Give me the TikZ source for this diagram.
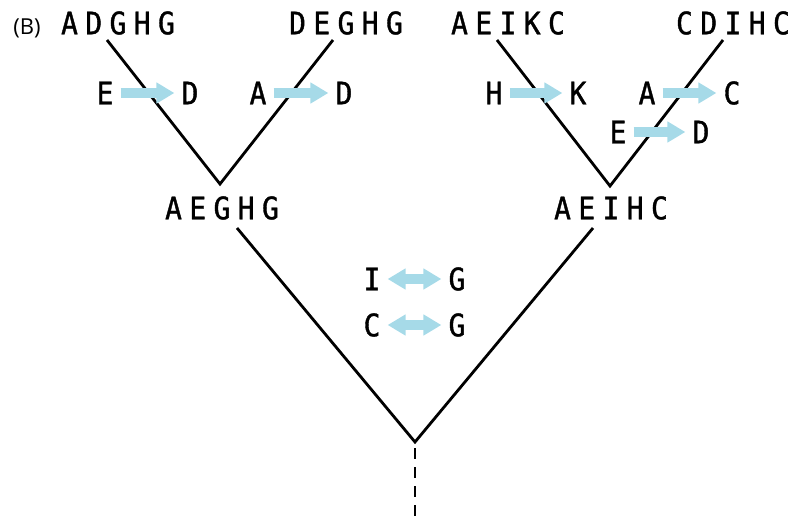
\documentclass[tikz,border=0pt]{standalone}
\usepackage{fontspec}
\usetikzlibrary{arrows.meta}
\newfontfamily\seqfont[LetterSpace=24,FakeStretch=0.9,FakeBold=1.2]{DejaVu Sans Mono}
\newfontfamily\letfont[FakeStretch=0.9,FakeBold=1.2]{DejaVu Sans Mono}
\newfontfamily\labfont{Open Sans}
\definecolor{arrowc}{RGB}{166,218,232}
\begin{document}
\begin{tikzpicture}[x=1pt,y=-1pt,
  seq/.style={inner sep=0pt, font=\seqfont\fontsize{31}{36}\selectfont},
  ltr/.style={inner sep=0pt, font=\letfont\fontsize{31}{36}\selectfont},
  branch/.style={line width=2.8pt},
  blk/.style={line width=10pt, draw=arrowc, -{Triangle[length=18pt,width=20pt]}, shorten <=7pt, shorten >=7pt},
  dblk/.style={line width=10pt, draw=arrowc, {Triangle[length=18pt,width=20pt]}-{Triangle[length=18pt,width=20pt]}, shorten <=7pt, shorten >=7pt}]
\useasboundingbox (0,0) rectangle (792,523);
% label
\node[inner sep=0pt, anchor=base, font=\labfont\fontsize{22}{26}\selectfont] (lab) at (27,34) {(B)};
% sequences
\node[seq] (adghg) at (118,23) {ADGHG};
\node[seq] (deghg) at (346,23) {DEGHG};
\node[seq] (aeikc) at (508,23) {AEIKC};
\node[seq] (cdihc) at (733,23) {CDIHC};
\node[seq] (aeghg) at (222,208) {AEGHG};
\node[seq] (aeihc) at (611,208) {AEIHC};
% branch coordinates
\coordinate (l1) at (107,40);
\coordinate (l2) at (333,40);
\coordinate (v1) at (220,184);
\coordinate (r1) at (497,40);
\coordinate (r2) at (723,40);
\coordinate (v2) at (610,186);
\coordinate (b1) at (237,228);
\coordinate (b2) at (593,228);
\coordinate (root) at (415,442);
\coordinate (tail) at (415,521);
\draw[branch] (l1) -- (v1) -- (l2);
\draw[branch] (r1) -- (v2) -- (r2);
\draw[branch] (b1) -- (root) -- (b2);
\draw[line width=2pt, dash pattern=on 11pt off 8pt, dash phase=-6pt] (root) -- (tail);
% substitutions
\node[ltr] (e1) at (105,93) {E};
\node[ltr] (d1) at (190,93) {D};
\node[ltr] (a1) at (258,93) {A};
\node[ltr] (d2) at (344,93) {D};
\node[ltr] (h1) at (494,93) {H};
\node[ltr] (k1) at (578,93) {K};
\node[ltr] (a2) at (647,93) {A};
\node[ltr] (c1) at (732,93) {C};
\node[ltr] (e2) at (618,132) {E};
\node[ltr] (d3) at (701,132) {D};
\node[ltr] (i1) at (372,279) {I};
\node[ltr] (g1) at (457,279) {G};
\node[ltr] (c2) at (372,325) {C};
\node[ltr] (g2) at (457,325) {G};
\draw[blk] (e1) -- (d1);
\draw[blk] (a1) -- (d2);
\draw[blk] (h1) -- (k1);
\draw[blk] (a2) -- (c1);
\draw[blk] (e2) -- (d3);
\draw[dblk] (i1) -- (g1);
\draw[dblk] (c2) -- (g2);
\end{tikzpicture}
\end{document}
